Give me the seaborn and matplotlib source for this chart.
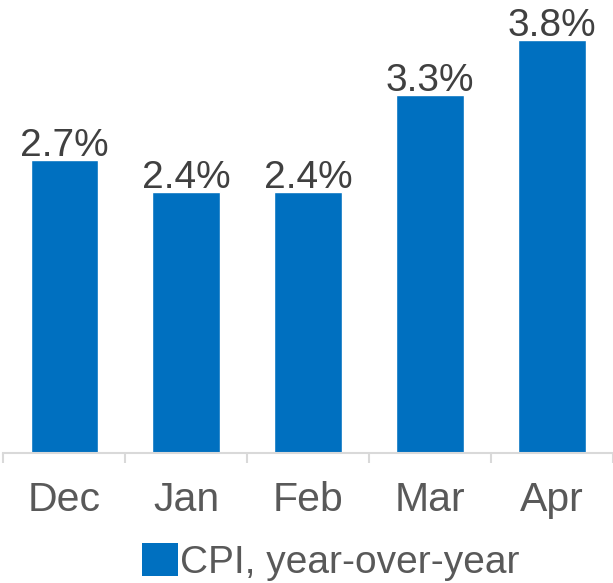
import numpy as np
import pandas as pd
import matplotlib
matplotlib.use("Agg")
import matplotlib.pyplot as plt
import seaborn as sns
from matplotlib.patches import Patch

months = ["Dec", "Jan", "Feb", "Mar", "Apr"]
cpi_yoy = [2.7, 2.4, 2.4, 3.3, 3.8]
series_name = "CPI, year-over-year"

df = pd.DataFrame({"Month": months, "CPI": cpi_yoy})

sns.set_theme(style="white")
plt.rcParams["font.family"] = ["Liberation Sans", "DejaVu Sans"]

bar_color = "#0070C0"

fig = plt.figure(figsize=(6.13, 5.83), dpi=100)
ax = fig.add_axes([0.005, 0.223, 0.995, 0.777])

sns.barplot(data=df, x="Month", y="CPI", color=bar_color, width=0.55,
            saturation=1, ax=ax)

ax.set_ylim(0, 4.17)
ax.set_xlim(-0.5, 4.5)
for side in ["top", "right", "left"]:
    ax.spines[side].set_visible(False)
ax.spines["bottom"].set_color("#D9D9D9")
ax.spines["bottom"].set_linewidth(1.5)
ax.set_yticks([])
ax.set_xlabel("")
ax.set_ylabel("")

ax.tick_params(axis="x", which="major", bottom=False, length=0, labelsize=29.5,
               labelcolor="#595959", pad=20)
ax.set_xticks(np.arange(-0.5, 4.6, 1), minor=True)
ax.tick_params(axis="x", which="minor", bottom=True, length=7, width=1.5,
               color="#D9D9D9")

# value labels just above each bar
for p, v in zip(ax.patches, cpi_yoy):
    ax.annotate(f"{v:.1f}%", (p.get_x() + p.get_width() / 2, p.get_height()),
                xytext=(0, -3), textcoords="offset points",
                ha="center", va="bottom", fontsize=28, color="#404040")

handles = [Patch(facecolor=bar_color, edgecolor="none")]
fig.legend(handles, [series_name], loc="lower center", bbox_to_anchor=(0.54, -0.056),
           frameon=False, fontsize=28, labelcolor="#595959",
           handlelength=0.93, handleheight=0.93, handletextpad=0.05)

fig.savefig("out.png", dpi=100)
